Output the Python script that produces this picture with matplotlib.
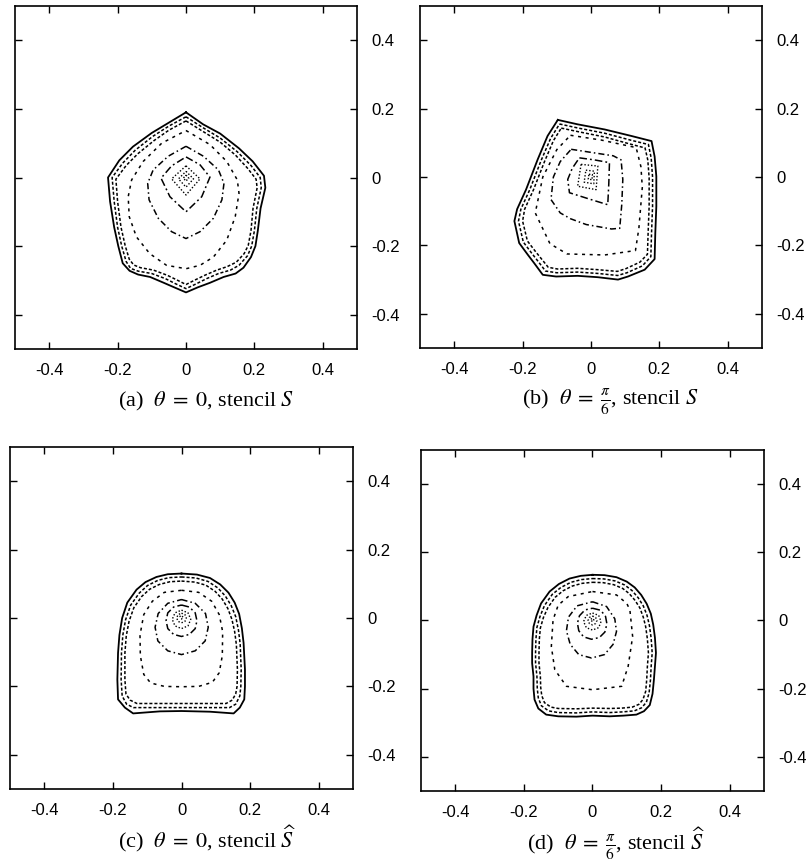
import matplotlib
matplotlib.use("Agg")
import matplotlib.pyplot as plt

plt.rcParams['mathtext.fontset'] = 'stix'
plt.rcParams['axes.unicode_minus'] = False

# ---------------- data ----------------
tick_values = [-0.4, -0.2, 0, 0.2, 0.4]
tick_labels = ['-0.4', '-0.2', '0', '0.2', '0.4']

captions = [r"(a)  $\theta\;=\;0$, stencil $S$",
            r"(b)  $\theta\;=\;\frac{\pi}{6}$, stencil $S$",
            r"(c)  $\theta\;=\;0$, stencil $\widehat{S}$",
            r"(d)  $\theta\;=\;\frac{\pi}{6}$, stencil $\widehat{S}$"]

# panel (a)
a1 = [(0,0.19),(0.05,0.155),(0.10,0.128),(0.155,0.085),(0.195,0.047),(0.228,0.005),(0.232,-0.03),(0.218,-0.09),(0.21,-0.155),(0.203,-0.2),(0.19,-0.232),(0.168,-0.263),(0.145,-0.28),(0.11,-0.29),(0.07,-0.307),(0.035,-0.32),(0,-0.335),(-0.035,-0.32),(-0.065,-0.307),(-0.105,-0.29),(-0.14,-0.283),(-0.165,-0.272),(-0.185,-0.25),(-0.198,-0.2),(-0.21,-0.145),(-0.222,-0.07),(-0.228,0.0),(-0.195,0.05),(-0.155,0.09),(-0.10,0.13),(-0.05,0.16),(0,0.19)]
a2 = [(0,0.177),(0.05,0.145),(0.10,0.115),(0.15,0.075),(0.19,0.035),(0.217,0.0),(0.22,-0.03),(0.207,-0.09),(0.2,-0.155),(0.192,-0.2),(0.18,-0.228),(0.155,-0.256),(0.13,-0.27),(0.095,-0.28),(0.06,-0.295),(0.03,-0.31),(0,-0.324),(-0.03,-0.31),(-0.06,-0.295),(-0.10,-0.28),(-0.14,-0.273),(-0.162,-0.265),(-0.175,-0.245),(-0.188,-0.2),(-0.2,-0.145),(-0.21,-0.07),(-0.216,0.0),(-0.185,0.042),(-0.148,0.08),(-0.097,0.12),(-0.05,0.15),(0,0.177)]
a3 = [(0,0.165),(0.05,0.134),(0.10,0.103),(0.145,0.065),(0.18,0.027),(0.205,-0.005),(0.208,-0.03),(0.196,-0.09),(0.19,-0.155),(0.182,-0.198),(0.17,-0.222),(0.147,-0.247),(0.12,-0.26),(0.09,-0.27),(0.055,-0.285),(0.028,-0.298),(0,-0.312),(-0.028,-0.298),(-0.055,-0.285),(-0.095,-0.27),(-0.133,-0.263),(-0.153,-0.255),(-0.166,-0.238),(-0.178,-0.198),(-0.19,-0.145),(-0.2,-0.07),(-0.205,-0.005),(-0.175,0.035),(-0.14,0.07),(-0.093,0.108),(-0.05,0.138),(0,0.165)]
a4 = [(0,0.137),(0.07,0.096),(0.119,0.047),(0.15,-0.007),(0.155,-0.046),(0.144,-0.114),(0.119,-0.183),(0.08,-0.232),(0.041,-0.256),(0,-0.266),(-0.057,-0.256),(-0.106,-0.222),(-0.145,-0.173),(-0.166,-0.114),(-0.169,-0.056),(-0.159,-0.007),(-0.125,0.047),(-0.071,0.1),(0,0.137)]
a5 = [(0,0.091),(0.051,0.062),(0.095,0.022),(0.111,-0.017),(0.105,-0.065),(0.08,-0.119),(0.041,-0.158),(0,-0.178),(-0.042,-0.158),(-0.081,-0.119),(-0.108,-0.065),(-0.112,-0.017),(-0.096,0.022),(-0.052,0.062),(0,0.091)]
a6 = [(0,0.06),(0.041,0.037),(0.07,0.001),(0.046,-0.056),(0,-0.1),(-0.047,-0.056),(-0.073,-0.002),(-0.042,0.034),(0,0.06)]
a7 = [(0,0.034),(0.041,-0.004),(0,-0.051),(-0.042,-0.004),(0,0.034)]
a8 = [(0,0.018),(0.022,-0.004),(0,-0.028),(-0.022,-0.004),(0,0.018)]
a9 = [(0,0.007),(0.008,-0.002),(0,-0.01),(-0.008,-0.002),(0,0.007)]

# panel (b)
b1 = [(-0.097,0.167),(-0.039,0.154),(0.04,0.139),(0.118,0.12),(0.177,0.105),(0.186,0.06),(0.191,0.002),(0.191,-0.086),(0.188,-0.164),(0.186,-0.24),(0.157,-0.271),(0.108,-0.291),(0.079,-0.3),(0.02,-0.293),(-0.039,-0.289),(-0.102,-0.291),(-0.141,-0.286),(-0.166,-0.252),(-0.185,-0.227),(-0.21,-0.193),(-0.224,-0.129),(-0.216,-0.094),(-0.19,-0.037),(-0.156,0.051),(-0.127,0.12),(-0.097,0.167)]
b2 = [(-0.092,0.155),(-0.037,0.143),(0.04,0.128),(0.115,0.108),(0.168,0.095),(0.176,0.055),(0.18,0.0),(0.18,-0.086),(0.177,-0.164),(0.175,-0.233),(0.15,-0.26),(0.105,-0.28),(0.078,-0.288),(0.02,-0.282),(-0.039,-0.278),(-0.1,-0.28),(-0.133,-0.275),(-0.156,-0.245),(-0.174,-0.222),(-0.198,-0.19),(-0.212,-0.129),(-0.205,-0.094),(-0.179,-0.037),(-0.146,0.048),(-0.118,0.113),(-0.092,0.155)]
b3 = [(-0.087,0.143),(-0.035,0.132),(0.04,0.117),(0.112,0.097),(0.158,0.085),(0.166,0.05),(0.17,-0.002),(0.17,-0.086),(0.167,-0.164),(0.165,-0.226),(0.143,-0.249),(0.102,-0.268),(0.077,-0.276),(0.02,-0.271),(-0.039,-0.267),(-0.098,-0.269),(-0.125,-0.264),(-0.146,-0.238),(-0.163,-0.217),(-0.186,-0.187),(-0.2,-0.129),(-0.194,-0.094),(-0.168,-0.037),(-0.136,0.045),(-0.11,0.106),(-0.087,0.143)]
b4 = [(-0.06,0.122),(0.03,0.108),(0.132,0.086),(0.146,0.03),(0.15,-0.03),(0.14,-0.15),(0.13,-0.215),(0.04,-0.228),(-0.07,-0.225),(-0.12,-0.195),(-0.163,-0.105),(-0.141,0.0),(-0.1,0.08),(-0.06,0.122)]
b5 = [(-0.058,0.081),(0.0,0.072),(0.065,0.062),(0.088,0.05),(0.093,-0.007),(0.09,-0.08),(0.084,-0.15),(0.06,-0.152),(-0.014,-0.139),(-0.06,-0.122),(-0.09,-0.105),(-0.117,-0.066),(-0.11,0.0),(-0.09,0.045),(-0.058,0.081)]
b6 = [(-0.034,0.056),(0.01,0.05),(0.054,0.042),(0.052,-0.02),(0.049,-0.081),(0.0,-0.066),(-0.063,-0.046),(-0.068,-0.007),(-0.055,0.025),(-0.034,0.056)]
b7 = [(-0.029,0.037),(0.02,0.032),(0.015,-0.037),(-0.039,-0.027),(-0.029,0.037)]
b8 = [(-0.015,0.02),(0.01,0.017),(0.008,-0.02),(-0.02,-0.015),(-0.015,0.02)]
b9 = [(-0.006,0.008),(0.004,0.007),(0.003,-0.008),(-0.008,-0.006),(-0.006,0.008)]

# panel (c)
c1 = [(0,0.13),(0.045,0.127),(0.083,0.117),(0.113,0.098),(0.137,0.074),(0.155,0.045),(0.168,0.012),(0.176,-0.03),(0.181,-0.073),(0.185,-0.15),(0.185,-0.2),(0.183,-0.238),(0.17,-0.262),(0.152,-0.279),(0.083,-0.274),(0,-0.272),(-0.063,-0.273),(-0.141,-0.279),(-0.165,-0.262),(-0.185,-0.238),(-0.187,-0.18),(-0.185,-0.102),(-0.181,-0.05),(-0.173,0.0),(-0.158,0.045),(-0.131,0.083),(-0.105,0.105),(-0.073,0.12),(-0.04,0.128),(0,0.13)]
c2 = [(0,0.12),(0.042,0.117),(0.077,0.107),(0.106,0.088),(0.128,0.064),(0.145,0.036),(0.158,0.004),(0.166,-0.035),(0.171,-0.075),(0.174,-0.15),(0.173,-0.2),(0.17,-0.228),(0.158,-0.252),(0.14,-0.262),(0.07,-0.262),(0,-0.262),(-0.07,-0.262),(-0.14,-0.262),(-0.16,-0.252),(-0.173,-0.228),(-0.176,-0.18),(-0.175,-0.102),(-0.171,-0.05),(-0.163,-0.005),(-0.148,0.038),(-0.123,0.073),(-0.099,0.095),(-0.069,0.11),(-0.037,0.118),(0,0.12)]
c3 = [(0,0.108),(0.039,0.105),(0.071,0.096),(0.098,0.078),(0.119,0.055),(0.135,0.028),(0.147,-0.004),(0.155,-0.04),(0.16,-0.078),(0.163,-0.15),(0.162,-0.2),(0.158,-0.222),(0.148,-0.24),(0.13,-0.25),(0.07,-0.25),(0,-0.25),(-0.07,-0.25),(-0.13,-0.25),(-0.15,-0.24),(-0.162,-0.222),(-0.165,-0.18),(-0.165,-0.102),(-0.161,-0.052),(-0.153,-0.01),(-0.139,0.03),(-0.116,0.063),(-0.093,0.084),(-0.065,0.098),(-0.034,0.106),(0,0.108)]
c4 = [(0,0.081),(0.05,0.075),(0.088,0.049),(0.11,0.01),(0.12,-0.04),(0.119,-0.11),(0.11,-0.16),(0.09,-0.188),(0.05,-0.2),(0,-0.201),(-0.05,-0.2),(-0.09,-0.19),(-0.11,-0.165),(-0.12,-0.11),(-0.121,-0.05),(-0.11,0.01),(-0.085,0.049),(-0.05,0.075),(0,0.081)]
c5 = [(0,0.054),(0.04,0.043),(0.07,0.013),(0.078,-0.027),(0.069,-0.067),(0.04,-0.096),(0,-0.107),(-0.04,-0.096),(-0.069,-0.067),(-0.077,-0.027),(-0.068,0.013),(-0.04,0.043),(0,0.054)]
c6 = [(0,0.038),(0.023,0.032),(0.04,0.015),(0.045,-0.008),(0.04,-0.031),(0.023,-0.048),(0,-0.054),(-0.023,-0.048),(-0.04,-0.031),(-0.045,-0.008),(-0.04,0.015),(-0.023,0.032),(0,0.038)]
c7 = [(0,0.023),(0.019,0.015),(0.027,-0.004),(0.019,-0.023),(0,-0.031),(-0.019,-0.023),(-0.027,-0.004),(-0.019,0.015),(0,0.023)]
c8 = [(0,0.014),(0.01,0.01),(0.014,0),(0.01,-0.01),(0,-0.014),(-0.01,-0.01),(-0.014,0),(-0.01,0.01),(0,0.014)]
c9 = [(-0.006,0.004),(0.0,0.007),(0.005,0.002),(0.0,-0.003),(-0.005,0.0)]

# panel (d)
d1 = [(0,0.134),(0.035,0.133),(0.07,0.127),(0.1,0.114),(0.123,0.097),(0.142,0.075),(0.158,0.049),(0.17,0.02),(0.177,-0.012),(0.182,-0.05),(0.185,-0.095),(0.182,-0.135),(0.179,-0.174),(0.175,-0.215),(0.167,-0.248),(0.15,-0.266),(0.128,-0.276),(0.09,-0.279),(0.05,-0.281),(0.0,-0.279),(-0.047,-0.282),(-0.1,-0.281),(-0.135,-0.276),(-0.158,-0.258),(-0.169,-0.232),(-0.172,-0.2),(-0.172,-0.164),(-0.176,-0.125),(-0.176,-0.095),(-0.175,-0.055),(-0.172,-0.018),(-0.163,0.015),(-0.15,0.05),(-0.125,0.085),(-0.098,0.107),(-0.067,0.123),(-0.034,0.131),(0,0.134)]
d2 = [(0,0.123),(0.033,0.122),(0.066,0.116),(0.094,0.104),(0.115,0.088),(0.133,0.067),(0.148,0.043),(0.159,0.015),(0.166,-0.015),(0.171,-0.052),(0.174,-0.095),(0.171,-0.135),(0.169,-0.174),(0.165,-0.212),(0.157,-0.24),(0.143,-0.256),(0.122,-0.265),(0.088,-0.268),(0.05,-0.27),(0.0,-0.268),(-0.047,-0.271),(-0.1,-0.27),(-0.128,-0.265),(-0.149,-0.25),(-0.158,-0.227),(-0.161,-0.2),(-0.162,-0.164),(-0.166,-0.125),(-0.166,-0.095),(-0.165,-0.055),(-0.162,-0.02),(-0.153,0.012),(-0.14,0.044),(-0.117,0.077),(-0.092,0.097),(-0.063,0.112),(-0.032,0.12),(0,0.123)]
d3 = [(0,0.112),(0.031,0.111),(0.062,0.105),(0.088,0.094),(0.107,0.079),(0.124,0.059),(0.138,0.037),(0.148,0.01),(0.155,-0.018),(0.16,-0.054),(0.163,-0.095),(0.16,-0.135),(0.158,-0.174),(0.155,-0.208),(0.147,-0.232),(0.135,-0.246),(0.116,-0.254),(0.085,-0.257),(0.05,-0.258),(0.0,-0.257),(-0.047,-0.259),(-0.1,-0.258),(-0.121,-0.254),(-0.14,-0.241),(-0.148,-0.22),(-0.151,-0.196),(-0.152,-0.164),(-0.156,-0.125),(-0.156,-0.095),(-0.155,-0.055),(-0.152,-0.022),(-0.143,0.009),(-0.13,0.038),(-0.109,0.068),(-0.086,0.087),(-0.059,0.101),(-0.03,0.109),(0,0.112)]
d4 = [(0,0.085),(0.07,0.075),(0.1,0.05),(0.109,0.031),(0.117,-0.047),(0.104,-0.134),(0.085,-0.193),(0,-0.203),(-0.076,-0.193),(-0.11,-0.144),(-0.12,-0.076),(-0.115,0.002),(-0.1,0.045),(-0.071,0.07),(0,0.085)]
d5 = [(0,0.055),(0.041,0.041),(0.065,0.005),(0.07,-0.032),(0.06,-0.07),(0.035,-0.1),(-0.003,-0.11),(-0.04,-0.1),(-0.065,-0.07),(-0.076,-0.03),(-0.07,0.01),(-0.045,0.043),(0,0.055)]
d6 = [(0,0.036),(0.024,0.03),(0.038,0.012),(0.042,-0.01),(0.036,-0.034),(0.02,-0.05),(-0.003,-0.055),(-0.026,-0.048),(-0.04,-0.03),(-0.044,-0.008),(-0.038,0.014),(-0.022,0.031),(0,0.036)]
d7 = [(0,0.022),(0.018,0.015),(0.025,-0.003),(0.018,-0.021),(0,-0.028),(-0.018,-0.021),(-0.026,-0.003),(-0.018,0.015),(0,0.022)]
d8 = [(0,0.013),(0.009,0.009),(0.013,0),(0.009,-0.009),(0,-0.013),(-0.009,-0.009),(-0.013,0),(-0.009,0.009),(0,0.013)]
d9 = [(-0.005,0.004),(0.0,0.006),(0.004,0.002),(0.0,-0.003),(-0.004,0.0)]

panels = [[a1, a2, a3, a4, a5, a6, a7, a8, a9],
          [b1, b2, b3, b4, b5, b6, b7, b8, b9],
          [c1, c2, c3, c4, c5, c6, c7, c8, c9],
          [d1, d2, d3, d4, d5, d6, d7, d8, d9]]

# ---------------- styling ----------------
styles = ['-', (0, (2, 1.3)), (0, (2, 1.3)), (0, (2, 3)), (0, (4, 2, 1, 2)),
          (0, (5, 2, 1.2, 2)), (0, (1, 1.4)), (0, (1, 1.4)), (0, (1, 1.2))]
widths = [1.3, 1.1, 1.1, 1.1, 1.1, 1.1, 1.0, 1.0, 1.0]

W, H = 810, 863
fig = plt.figure(figsize=(W / 100, H / 100), dpi=100)

# axes boxes in pixels: left, top, right, bottom
boxes = [(15, 6, 357, 349), (420, 6, 762, 348), (10, 447, 353, 789), (421, 450, 764, 791)]
cap_pos = [(206, 401), (611, 402), (207, 839), (616, 844)]

for k, (box, curves) in enumerate(zip(boxes, panels)):
    l, t, r, b = box
    ax = fig.add_axes([l / W, 1 - b / H, (r - l) / W, (b - t) / H])
    for curve, ls, lw in zip(curves, styles, widths):
        xs = [p[0] for p in curve]
        ys = [p[1] for p in curve]
        ax.plot(xs, ys, color='black', linestyle=ls, linewidth=lw)
    ax.set_xlim(-0.5, 0.5)
    ax.set_ylim(-0.5, 0.5)
    ax.set_xticks(tick_values)
    ax.set_xticklabels(tick_labels)
    ax.set_yticks(tick_values)
    ax.set_yticklabels(tick_labels)
    ax.tick_params(direction='in', length=5, width=1.0, top=True, bottom=True,
                   left=True, right=True, labelleft=False, labelright=True,
                   labelsize=12, pad=10)
    for lab in ax.get_xticklabels() + ax.get_yticklabels():
        lab.set_fontfamily('Liberation Sans')
    for sp in ax.spines.values():
        sp.set_linewidth(1.2)
    cx, cy = cap_pos[k]
    fig.text(cx / W, 1 - cy / H, captions[k], ha='center', va='center',
             fontsize=16, family='Liberation Serif')

fig.savefig('out.png', dpi=100)
